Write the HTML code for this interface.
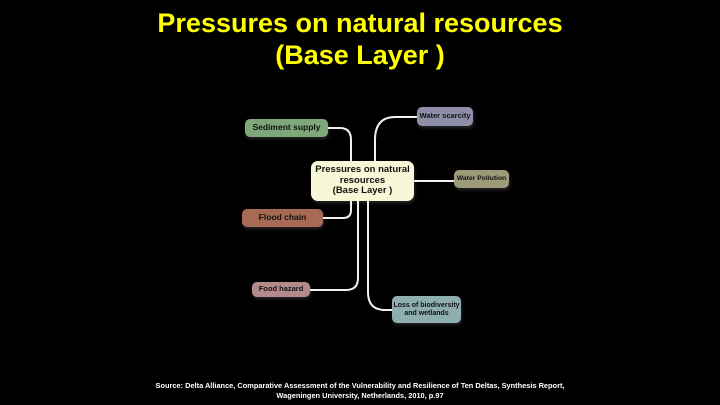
<!DOCTYPE html>
<html><head><style>
body{margin:0;width:720px;height:405px;background:#000;position:relative;overflow:hidden;font-family:"Liberation Sans",sans-serif}
.t{position:absolute;left:0;width:720px;text-align:center;color:#ffff00;font-weight:bold;font-size:27px}
.n{position:absolute;border-radius:5px;font-weight:bold;font-size:8.5px;color:#111;display:flex;align-items:center;justify-content:center;text-align:center;line-height:1.1;white-space:nowrap;box-shadow:1px 2px 3px rgba(255,255,255,0.15)}
.src{position:absolute;left:0;width:720px;text-align:center;color:#fff;font-weight:bold;font-size:7.4px;line-height:10px;top:381px}
</style></head><body>
<div class="t" style="top:8px">Pressures on natural resources</div>
<div class="t" style="top:40px">(Base Layer )</div>
<svg width="720" height="405" style="position:absolute;left:0;top:0" fill="none" stroke="#f0f0f0" stroke-width="2">
<path d="M328 128 H340 Q351 128 351 140 V162"/>
<path d="M417 117 H395 Q375 117 375 140 V162"/>
<path d="M414 181 H454"/>
<path d="M351 200 V210 Q351 218 343 218 H323"/>
<path d="M358 200 V278 Q358 290 346 290 H310"/>
<path d="M368 200 V292 Q368 310 385 310 H392"/>
</svg>
<div class="n" style="left:245px;top:119px;width:83px;height:18px;background:#7fa87a">Sediment supply</div>
<div class="n" style="left:417px;top:107px;width:56px;height:19px;background:#8e8ea8;font-size:7.5px">Water scarcity</div>
<div class="n" style="left:311px;top:161px;width:103px;height:40px;background:#f8f8d8;font-size:9.5px;border-radius:7px">Pressures on natural<br>resources<br>(Base Layer )</div>
<div class="n" style="left:454px;top:170px;width:55px;height:18px;background:#9c9a78;font-size:6.8px">Water Pollution</div>
<div class="n" style="left:242px;top:209px;width:81px;height:18px;background:#a66a55">Flood chain</div>
<div class="n" style="left:252px;top:282px;width:58px;height:15px;background:#b58a8a;font-size:7.5px">Food hazard</div>
<div class="n" style="left:392px;top:296px;width:69px;height:27px;background:#8eaeb0;font-size:7px">Loss of biodiversity<br>and wetlands</div>
<div class="src">Source: Delta Alliance, Comparative Assessment of the Vulnerability and Resilience of Ten Deltas, Synthesis Report,<br>Wageningen University, Netherlands, 2010, p.97</div>
</body></html>
